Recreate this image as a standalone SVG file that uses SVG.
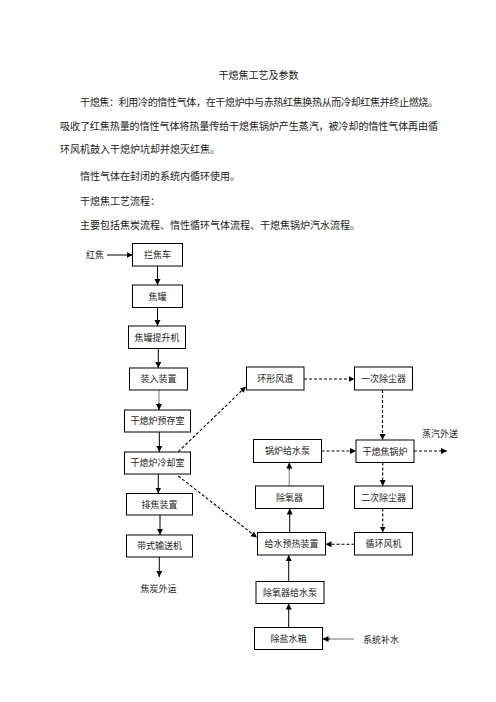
<svg xmlns="http://www.w3.org/2000/svg" width="496" height="702" viewBox="0 0 496 702">
<defs>
<style>
text{font-family:"Noto Sans CJK SC","Noto Sans CJK JP",sans-serif;fill:#222;}
.p{font-size:10px;}
.t{font-size:9px;text-anchor:middle;}
.b{fill:#fff;stroke:#000;stroke-width:1;}
.s{fill:none;stroke:#000;stroke-width:1;}
.g{fill:none;stroke:#aaa;stroke-width:1.6;}
.d{fill:none;stroke:#000;stroke-width:1.1;stroke-dasharray:3,2;}
</style>
<marker id="a" markerUnits="userSpaceOnUse" markerWidth="7" markerHeight="7" refX="6" refY="3" orient="auto"><path d="M0,0 L6,3 L0,6 z" fill="#000"/></marker>
</defs>
<rect width="496" height="702" fill="#fff"/>
<g id="text">
<text class="p" x="258.5" y="79" text-anchor="middle">干熄焦工艺及参数</text>
<text class="p" x="80" y="106" textLength="358" lengthAdjust="spacing">干熄焦：利用冷的惰性气体，在干熄炉中与赤热红焦换热从而冷却红焦并终止燃烧。</text>
<text class="p" x="60" y="129.5" textLength="378" lengthAdjust="spacing">吸收了红焦热量的惰性气体将热量传给干熄焦锅炉产生蒸汽，被冷却的惰性气体再由循</text>
<text class="p" x="60" y="153">环风机鼓入干熄炉坑却并熄灭红焦。</text>
<text class="p" x="80" y="180">惰性气体在封闭的系统内循环使用。</text>
<text class="p" x="80" y="205">干熄焦工艺流程：</text>
<text class="p" x="80" y="229">主要包括焦炭流程、惰性循环气体流程、干熄焦锅炉汽水流程。</text>
</g>
<g id="labels">
<text class="t" x="95" y="258">红焦</text>
<text class="t" x="158.5" y="591.5">焦炭外运</text>
<text class="t" x="440" y="437">蒸汽外送</text>
<text class="t" x="381" y="642.5">系统补水</text>
</g>
<g id="connectors">
<line class="s" x1="107" y1="255" x2="132.5" y2="255" marker-end="url(#a)"/>
<line class="s" x1="157.5" y1="266" x2="157.5" y2="285" marker-end="url(#a)"/>
<line class="s" x1="157.5" y1="307.5" x2="157.5" y2="326" marker-end="url(#a)"/>
<line class="s" x1="158.3" y1="348.5" x2="158.3" y2="368" marker-end="url(#a)"/>
<line class="g" x1="159" y1="390" x2="159" y2="404"/>
<line class="s" x1="159" y1="403" x2="159" y2="410" marker-end="url(#a)"/>
<line class="s" x1="159.3" y1="432" x2="159.3" y2="452" marker-end="url(#a)"/>
<line class="s" x1="158.3" y1="474" x2="158.3" y2="493.5" marker-end="url(#a)"/>
<line class="s" x1="160" y1="515" x2="160" y2="535" marker-end="url(#a)"/>
<line class="s" x1="159.3" y1="557" x2="159.3" y2="577" marker-end="url(#a)"/>
<line class="d" x1="178.3" y1="451.7" x2="246" y2="386.5" marker-end="url(#a)"/>
<line class="d" x1="178.3" y1="476" x2="257" y2="537.5" marker-end="url(#a)"/>
<line class="d" x1="304" y1="379" x2="354.5" y2="379" marker-end="url(#a)"/>
<line class="d" x1="382.5" y1="390" x2="382.5" y2="440" marker-end="url(#a)"/>
<line class="d" x1="321.5" y1="451" x2="356" y2="451" marker-end="url(#a)"/>
<line class="d" x1="414" y1="451" x2="447" y2="451" marker-end="url(#a)"/>
<line class="d" x1="382.7" y1="462.5" x2="382.7" y2="486" marker-end="url(#a)"/>
<line class="d" x1="382.7" y1="508.5" x2="382.7" y2="532.5" marker-end="url(#a)"/>
<line class="d" x1="354.5" y1="544.3" x2="325.5" y2="544.3" marker-end="url(#a)"/>
<line class="g" x1="289.3" y1="486" x2="289.3" y2="469"/>
<line class="s" x1="289.3" y1="470" x2="289.3" y2="462.5" marker-end="url(#a)"/>
<line class="s" x1="289.7" y1="532.5" x2="289.7" y2="508.5" marker-end="url(#a)"/>
<line class="s" x1="288.7" y1="581.5" x2="288.7" y2="555" marker-end="url(#a)"/>
<line class="s" x1="288.7" y1="627.5" x2="288.7" y2="603.5" marker-end="url(#a)"/>
<line class="g" x1="354" y1="639" x2="329" y2="639"/>
<line class="s" x1="330" y1="639" x2="322.5" y2="639" marker-end="url(#a)"/>
</g>
<g id="n1"><rect class="b" x="132.5" y="243.5" width="50" height="22.5"/><text class="t" x="157.5" y="258">拦焦车</text></g>
<g id="n2"><rect class="b" x="132.5" y="285" width="50" height="22.5"/><text class="t" x="157.5" y="299.5">焦罐</text></g>
<g id="n3"><rect class="b" x="128.5" y="326" width="57" height="22.5"/><text class="t" x="157" y="340.5">焦罐提升机</text></g>
<g id="n4"><rect class="b" x="129.5" y="368" width="58" height="22"/><text class="t" x="158.5" y="382.3">装入装置</text></g>
<g id="n5"><rect class="b" x="124.5" y="410" width="66" height="22"/><text class="t" x="157.5" y="424.3">干熄炉预存室</text></g>
<g id="n6"><rect class="b" x="124.5" y="452" width="66" height="22"/><text class="t" x="157.5" y="466.3">干熄炉冷却室</text></g>
<g id="n7"><rect class="b" x="126.5" y="493.5" width="66" height="21.5"/><text class="t" x="159.5" y="507.5">排焦装置</text></g>
<g id="n8"><rect class="b" x="126.5" y="535" width="66" height="22"/><text class="t" x="159.5" y="549.3">带式输送机</text></g>
<g id="n9"><rect class="b" x="246.5" y="367" width="57.5" height="23"/><text class="t" x="275.2" y="381.8">环形风道</text></g>
<g id="n10"><rect class="b" x="354.5" y="367" width="58" height="23"/><text class="t" x="383.5" y="381.8">一次除尘器</text></g>
<g id="n11"><rect class="b" x="253.5" y="439.5" width="68" height="23"/><text class="t" x="287.5" y="454.3">锅炉给水泵</text></g>
<g id="n12"><rect class="b" x="356" y="440" width="58" height="22.5"/><text class="t" x="385" y="454.5">干熄焦锅炉</text></g>
<g id="n13"><rect class="b" x="255.5" y="486" width="68" height="22.5"/><text class="t" x="289.5" y="500.5">除氧器</text></g>
<g id="n14"><rect class="b" x="354.5" y="486" width="58" height="22.5"/><text class="t" x="383.5" y="500.5">二次除尘器</text></g>
<g id="n15"><rect class="b" x="257.5" y="532.5" width="68" height="22.5"/><text class="t" x="291.5" y="547">给水预热装置</text></g>
<g id="n16"><rect class="b" x="354.5" y="532.5" width="58" height="22.5"/><text class="t" x="383.5" y="547">循环风机</text></g>
<g id="n17"><rect class="b" x="256" y="581.5" width="68" height="22"/><text class="t" x="290" y="595.8">除氧器给水泵</text></g>
<g id="n18"><rect class="b" x="254.5" y="627.5" width="68" height="22"/><text class="t" x="288.5" y="641.8">除盐水箱</text></g>
</svg>
